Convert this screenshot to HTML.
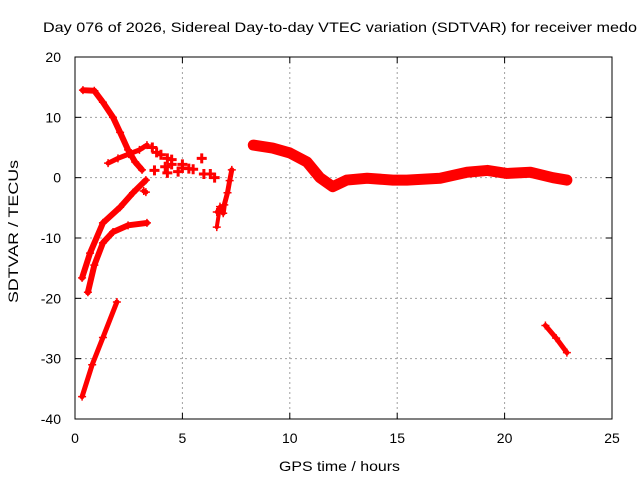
<!DOCTYPE html>
<html><head><meta charset="utf-8"><style>
body{margin:0;background:#fff;}
svg{display:block;font-family:"Liberation Sans",sans-serif;}
</style></head><body>
<svg id="chart" width="640" height="480">
<text x="43" y="32" font-size="14" textLength="594" lengthAdjust="spacingAndGlyphs">Day 076 of 2026, Sidereal Day-to-day VTEC variation (SDTVAR) for receiver medo</text>
<text x="279" y="471" font-size="14" textLength="121" lengthAdjust="spacingAndGlyphs">GPS time / hours</text>
<text transform="translate(18,303) rotate(-90)" font-size="14" textLength="143" lengthAdjust="spacingAndGlyphs">SDTVAR / TECUs</text>
<g id="grid"></g><g id="ticks"></g><g id="marks"></g>
<rect x="75" y="57" width="537" height="362" fill="none" stroke="#000" stroke-width="1"/>
</svg>
<script>
const xTicks=[0,5,10,15,20,25];
const yTicks=[20,10,0,-10,-20,-30,-40];
const arcA=[[0.37,14.5],[0.9,14.4],[1.3,12.5],[1.77,10.0],[2.1,7.5],[2.47,4.6],[2.8,2.6],[3.12,1.3]];
const arcB=[[1.54,2.4],[2.0,3.2],[2.5,3.9],[3.0,4.6],[3.35,5.4]];
const arcC=[[0.33,-16.6],[0.7,-12.5],[1.3,-7.5],[2.1,-4.9],[2.7,-2.5],[3.3,-0.4]];
const arcD=[[0.6,-19],[0.9,-14.5],[1.3,-10.8],[1.77,-9],[2.47,-7.9],[3.35,-7.5]];
const arcE=[[0.33,-36.3],[0.8,-31],[1.3,-26.5],[1.95,-20.6]];
const arcF=[[3.3,-2.4],[3.2,-2.2]];
const arcG=[[3.6,5],[3.8,4.2],[4.0,3.8],[4.3,3.2],[4.5,3.0],[5.0,2.2],[5.5,1.4],[6.0,0.6]];
const arcH=[[3.7,1.2],[4.3,0.8],[4.5,2.2],[4.8,1],[5.0,1.6],[5.3,1.5],[5.9,3.2],[6.3,0.6],[6.5,0],[4.2,1.8]];
const arcI=[[7.3,1.3],[7.2,-0.5],[7.1,-2.5],[6.95,-4.5],[6.9,-5.9]];
const arcJ=[[6.6,-5.7],[6.75,-4.8],[6.6,-8.2]];
const arcK=[[8.3,5.4],[9.2,4.9],[10,4.1],[10.8,2.6],[11.4,0],[12,-1.5],[12.65,-0.4],[13.6,-0.1],[14.8,-0.4],[15.45,-0.4],[17,-0.1],[18.25,0.9],[19.2,1.2],[20.1,0.7],[21.2,0.9],[22.25,0],[22.9,-0.4]];
const arcL=[[21.9,-24.5],[22.4,-26.6],[22.9,-29]];
const arcs=[arcA,arcB,arcC,arcD,arcE,arcF,arcG,arcH,arcI,arcJ,arcK,arcL];
const arcWidths=[6,5,6,6,5,5,0,0,5,4,11,5];
const X0=75,X1=612,Y0=419,Y1=57;
const sx=h=>X0+(h-0)/(25-0)*(X1-X0);
const sy=v=>Y0-(v-(-40))/(20-(-40))*(Y0-Y1);
const NS='http://www.w3.org/2000/svg';
const grid=document.getElementById('grid'),ticks=document.getElementById('ticks'),marks=document.getElementById('marks');
function mk(t,a,p){const e=document.createElementNS(NS,t);for(const k in a)e.setAttribute(k,a[k]);p.appendChild(e);return e;}
xTicks.forEach(t=>{const x=sx(t);
 if(t>0&&t<25){const g=mk('line',{x1:x,y1:Y1,x2:x,y2:Y0,stroke:'#a0a0a0','stroke-dasharray':'2,3'},grid);
 
 }
 mk('line',{x1:x,y1:Y0,x2:x,y2:Y0-6,stroke:'#000'},ticks);mk('line',{x1:x,y1:Y1,x2:x,y2:Y1+6,stroke:'#000'},ticks);
 const l=mk('text',{x:x,y:Y0+24,'font-size':14,'text-anchor':'middle'},ticks);l.textContent=t;
 
 });
yTicks.forEach(t=>{const y=sy(t);
 if(t<20&&t>-40){const g=mk('line',{x1:X0,y1:y,x2:X1,y2:y,stroke:'#a0a0a0','stroke-dasharray':'2,3'},grid);
 
 }
 mk('line',{x1:X0,y1:y,x2:X0+6,y2:y,stroke:'#000'},ticks);mk('line',{x1:X1,y1:y,x2:X1-6,y2:y,stroke:'#000'},ticks);
 const l=mk('text',{x:X0-14,y:y+5,'font-size':14,'text-anchor':'end'},ticks);l.textContent=t;
 
 });
arcs.forEach((arc,i)=>{
 if(arcWidths[i]>0){
 const pts=arc.map(p=>sx(p[0])+','+sy(p[1])).join(' ');
 const pl=mk('polyline',{points:pts,fill:'none',stroke:'#ff0000','stroke-width':arcWidths[i],'stroke-linejoin':'round','stroke-linecap':'round'},marks);
 
 }
 const r=arcWidths[i]>0?4:5;
 arc.forEach(p=>{const x=sx(p[0]),y=sy(p[1]);
  const m=mk('path',{d:`M${x-r},${y}H${x+r}M${x},${y-r}V${y+r}`,stroke:'#ff0000','stroke-width':arcWidths[i]>0?1.5:3},marks);
  
  });
});
</script>
</body></html>
